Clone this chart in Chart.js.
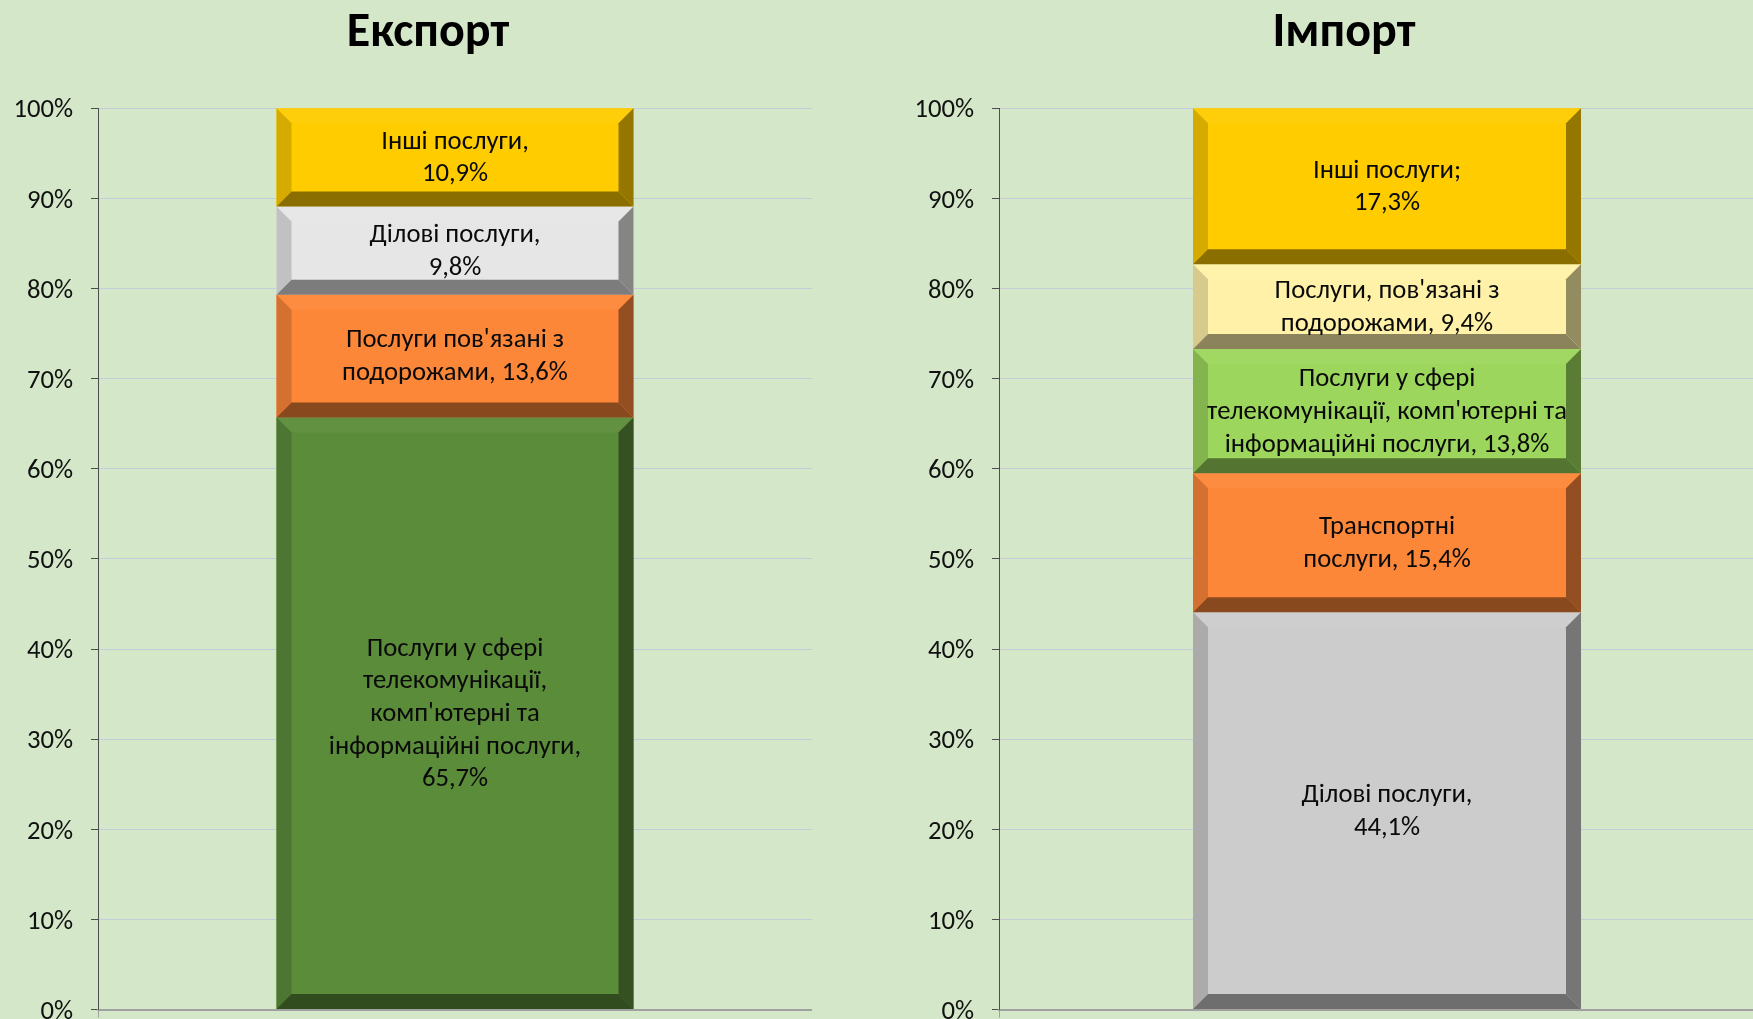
<!DOCTYPE html>
<html>
<head>
<meta charset="utf-8">
<script src="https://cdn.jsdelivr.net/npm/chart.js@4.4.1/dist/chart.umd.min.js"></script>
<style>
  html, body { margin: 0; padding: 0; width: 1753px; height: 1019px; overflow: hidden; background: #d4e8c9; }
  .wrap { position: absolute; top: 0; height: 1019px; }
  #wrapL { left: 0; width: 812px; }
  #wrapR { left: 901px; width: 874px; }
  canvas { display: block; }
</style>
</head>
<body>
<div class="wrap" id="wrapL"><canvas id="cL" width="812" height="1019"></canvas></div>
<div class="wrap" id="wrapR"><canvas id="cR" width="874" height="1019"></canvas></div>
<script>
// ---------- DATA ----------
const exportTitle = 'Експорт';
const exportCategories = [
  "Послуги у сфері телекомунікації, комп'ютерні та інформаційні послуги",
  "Послуги пов'язані з подорожами",
  "Ділові послуги",
  "Інші послуги"
];
const exportValues = [65.7, 13.6, 9.8, 10.9];
const exportColors = ['#5b8c3a', '#fd8739', '#e6e6e6', '#ffcc00'];
const exportLabelLines = [
  ["Послуги у сфері", "телекомунікації,", "комп'ютерні та", "інформаційні послуги,", "{v}"],
  ["Послуги пов'язані з", "подорожами, {v}"],
  ["Ділові послуги,", "{v}"],
  ["Інші послуги,", "{v}"]
];

const importTitle = 'Імпорт';
const importCategories = [
  "Ділові послуги",
  "Транспортні послуги",
  "Послуги у сфері телекомунікації, комп'ютерні та інформаційні послуги",
  "Послуги, пов'язані з подорожами",
  "Інші послуги"
];
const importValues = [44.1, 15.4, 13.8, 9.4, 17.3];
const importColors = ['#cccccc', '#fd8739', '#9cd65c', '#fff2a8', '#ffcc00'];
const importLabelLines = [
  ["Ділові послуги,", "{v}"],
  ["Транспортні", "послуги, {v}"],
  ["Послуги у сфері", "телекомунікації, комп'ютерні та", "інформаційні послуги, {v}"],
  ["Послуги, пов'язані з", "подорожами, {v}"],
  ["Інші послуги;", "{v}"]
];

const yTickMax = 100;
const yTickStep = 10;

// ---------- STYLE ----------
const FONT = "'Carlito', 'Open Sans', 'Noto Sans', sans-serif";
const BEVEL = 15;

function parseHex(h) { h = h.replace('#', ''); return [0, 2, 4].map(i => parseInt(h.substr(i, 2), 16)); }
function mul(c, f) { return 'rgb(' + c.map(v => Math.round(Math.max(0, Math.min(255, v * f)))).join(',') + ')'; }
function lighten(c, f) { return 'rgb(' + c.map(v => Math.round(v + (255 - v) * f)).join(',') + ')'; }
function fmt(v) { return v.toFixed(1).replace('.', ','); }

const bevelPlugin = {
  id: 'bevel',
  afterDatasetsDraw(chart) {
    const ctx = chart.ctx;
    ctx.save();
    chart.data.datasets.forEach((ds, i) => {
      const meta = chart.getDatasetMeta(i);
      meta.data.forEach(bar => {
        const p = bar.getProps(['x', 'y', 'base', 'width'], true);
        const L = p.x - p.width / 2, R = p.x + p.width / 2;
        const T = Math.min(p.y, p.base), B = Math.max(p.y, p.base);
        const b = Math.min(BEVEL, (B - T) / 2, (R - L) / 2);
        const c = parseHex(ds.backgroundColor);
        const poly = (pts, col) => {
          ctx.beginPath();
          ctx.moveTo(pts[0][0], pts[0][1]);
          for (let k = 1; k < pts.length; k++) ctx.lineTo(pts[k][0], pts[k][1]);
          ctx.closePath();
          ctx.fillStyle = col;
          ctx.fill();
        };
        poly([[L, T], [R, T], [R - b, T + b], [L + b, T + b]], lighten(c, 0.04));
        poly([[L, T], [L + b, T + b], [L + b, B - b], [L, B]], mul(c, 0.84));
        poly([[R, T], [R, B], [R - b, B - b], [R - b, T + b]], mul(c, 0.58));
        poly([[L, B], [L + b, B - b], [R - b, B - b], [R, B]], mul(c, 0.54));
      });
    });
    ctx.restore();
  }
};

const labelPlugin = {
  id: 'segLabels',
  afterDatasetsDraw(chart, args, opts) {
    const ctx = chart.ctx;
    ctx.save();
    ctx.font = '26.67px ' + FONT;
    ctx.fillStyle = '#0a0a0a';
    ctx.textAlign = 'center';
    ctx.textBaseline = 'middle';
    const lh = 32.7;
    chart.data.datasets.forEach((ds, i) => {
      const meta = chart.getDatasetMeta(i);
      const lines = opts.lines[i].map(s => s.replace('{v}', fmt(ds.data[0]) + '%'));
      meta.data.forEach(bar => {
        const p = bar.getProps(['x', 'y', 'base'], true);
        const cy = (p.y + p.base) / 2 + 1;
        const y0 = cy - (lines.length - 1) * lh / 2;
        lines.forEach((ln, k) => ctx.fillText(ln, p.x, y0 + k * lh));
      });
    });
    ctx.restore();
  }
};

// moves the (library-drawn) title horizontally so its centre sits at opts.center
const titleShiftPlugin = {
  id: 'titleShift',
  afterLayout(chart, args, opts) {
    const t = chart.titleBlock;
    if (!t || opts.center == null) return;
    const w = chart.width;
    t.left = opts.center - w / 2;
    t.right = opts.center + w / 2;
    t.width = w;
  }
};

function makeChart(id, title, cats, vals, cols, lines, titleCenter) {
  return new Chart(document.getElementById(id), {
    type: 'bar',
    data: {
      labels: [''],
      datasets: cats.map((c, i) => ({
        label: c,
        data: [vals[i]],
        backgroundColor: cols[i],
        borderWidth: 0,
        categoryPercentage: 1,
        barPercentage: 0.5
      }))
    },
    plugins: [bevelPlugin, labelPlugin, titleShiftPlugin],
    options: {
      responsive: false,
      animation: false,
      events: [],
      layout: { padding: { left: 0, right: 0, top: 0, bottom: 1.4 } },
      plugins: {
        legend: { display: false },
        tooltip: { enabled: false },
        title: {
          display: true,
          text: title,
          color: '#000000',
          font: { family: FONT, size: 48, weight: 'bold', lineHeight: 1.2 },
          padding: { top: 4.7, bottom: 46 }
        },
        titleShift: { center: titleCenter },
        segLabels: { lines: lines }
      },
      scales: {
        x: {
          stacked: true,
          ticks: { display: false },
          grid: { display: true, drawOnChartArea: false, drawTicks: true, tickLength: 8, color: '#a0a0a0', lineWidth: 1 },
          border: { display: true, color: '#a0a0a0', width: 2 }
        },
        y: {
          stacked: true,
          min: 0,
          max: yTickMax,
          ticks: {
            stepSize: yTickStep,
            callback: v => v + '%',
            color: '#111111',
            font: { family: FONT, size: 26.67 },
            padding: 18,
            labelOffset: 2.5
          },
          grid: { color: '#c6cbd9', lineWidth: 1, tickColor: '#4d4d4d', tickLength: 7 },
          border: { display: true, color: '#4d4d4d', width: 1 },
          afterFit(scale) { scale.width = 98; scale.paddingTop = 0; scale.paddingBottom = 0; }
        }
      }
    }
  });
}

makeChart('cL', exportTitle, exportCategories, exportValues, exportColors, exportLabelLines, 428);
makeChart('cR', importTitle, importCategories, importValues, importColors, importLabelLines, 443);
</script>
</body>
</html>
